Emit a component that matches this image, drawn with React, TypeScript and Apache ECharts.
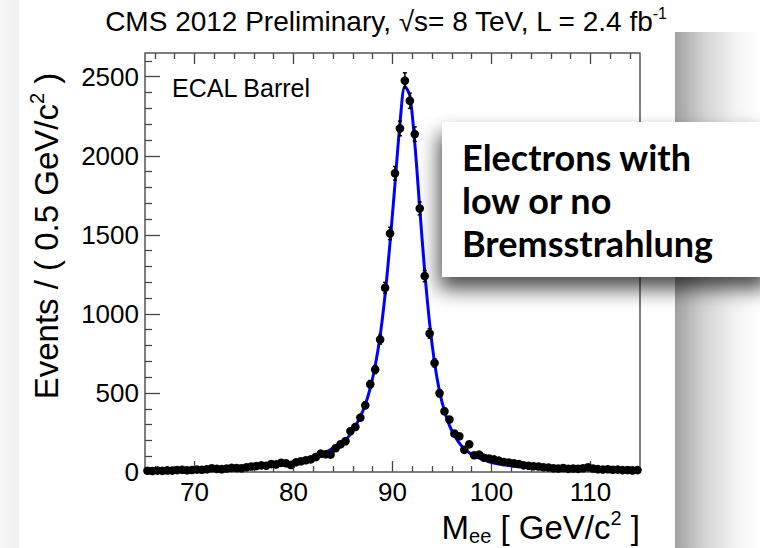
import React, { useEffect, useRef } from "react";
import * as echarts from "echarts";

// ---- data ----
const X_MIN = 65;
const X_MAX = 115;
const Y_MIN = 0;
const Y_MAX = 2650;
const BIN_START = 65;
const BIN_WIDTH = 0.5;

// events per 0.5 GeV bin, 65.0 .. 115.0
const counts = [
  8, 6, 9, 7, 10, 9, 12, 14, 11, 13,
  15, 14, 17, 24, 20, 18, 22, 26, 25, 24,
  30, 35, 38, 42, 40, 50, 48, 58, 55, 44,
  62, 68, 74, 80, 95, 116, 112, 110, 150, 175,
  195, 258, 285, 344, 422, 555, 648, 838, 1165, 1509,
  1889, 2173, 2475, 2348, 2137, 1667, 1239, 876, 690, 498,
  384, 332, 243, 226, 140, 175, 106, 110, 90, 85,
  80, 72, 63, 60, 55, 50, 42, 40, 36, 35,
  30, 28, 24, 22, 25, 20, 22, 20, 24, 30,
  22, 18, 16, 17, 14, 15, 12, 13, 10, 12,
];

// fitted curve, read at bin centres
const fitValues = [
  5, 5, 6, 6, 7, 8, 9, 9, 10, 11,
  12, 13, 14, 15, 16, 17, 18, 20, 22, 24,
  26, 29, 32, 35, 39, 43, 47, 52, 57, 62,
  68, 75, 82, 90, 100, 112, 125, 142, 162, 180,
  200, 240, 290, 350, 425, 530, 670, 860, 1120, 1450,
  1820, 2200, 2440, 2380, 2080, 1670, 1270, 940, 690, 510,
  385, 295, 230, 183, 148, 122, 102, 87, 75, 65,
  57, 51, 46, 41, 37, 34, 31, 28, 26, 24,
  22, 21, 19, 18, 17, 16, 15, 14, 14, 13,
  12, 12, 11, 11, 10, 10, 9, 9, 9, 8,
];

const xMajorTicks = [70, 80, 90, 100, 110];
const xMinorTicks = [66, 68, 72, 74, 76, 78, 82, 84, 86, 88, 92, 94, 96, 98, 102, 104, 106, 108, 112, 114];
const yMajorTicks = [0, 500, 1000, 1500, 2000, 2500];
const yMinorTicks = [
  100, 200, 300, 400, 600, 700, 800, 900, 1100, 1200, 1300, 1400,
  1600, 1700, 1800, 1900, 2100, 2200, 2300, 2400, 2600,
];

const titleMain = "CMS 2012 Preliminary, √s= 8 TeV, L = 2.4 fb";
const titleSup = "-1";
const yTitleMain = "Events / ( 0.5 GeV/c";
const yTitleSup = "2";
const yTitleEnd = " )";
const xTitleMain = "M";
const xTitleSub = "ee";
const xTitleMid = " [ GeV/c";
const xTitleSup = "2";
const xTitleEnd = " ]";
const detectorLabel = "ECAL Barrel";
const boxLines = ["Electrons with", "low or no", "Bremsstrahlung"];

const ROOT_FONT = "'Liberation Sans', Arial, Helvetica, sans-serif";
const BOX_FONT = "Lato, 'Noto Sans', sans-serif";

export default function App() {
  const ref = useRef<HTMLDivElement>(null);

  useEffect(() => {
    if (!ref.current) return;
    const chart = echarts.init(ref.current, null, { renderer: "svg" });

    const dataPoints = counts.map((c, i) => [BIN_START + BIN_WIDTH * (i + 0.5), c]);
    const fitPoints = fitValues.map((v, i) => [BIN_START + BIN_WIDTH * (i + 0.5), v]);

    const tickColor = "#444";
    const xAxisBase = {
      type: "value" as const,
      min: X_MIN,
      max: X_MAX,
      splitLine: { show: false },
      axisLine: { show: false, onZero: false },
    };
    const yAxisBase = {
      type: "value" as const,
      min: Y_MIN,
      max: Y_MAX,
      splitLine: { show: false },
      axisLine: { show: false, onZero: false },
    };

    chart.setOption({
      animation: false,
      backgroundColor: "#ffffff",
      grid: {
        left: 145,
        right: 120,
        top: 53,
        bottom: 76,
        show: true,
        borderColor: "#555",
        borderWidth: 1.5,
        backgroundColor: "transparent",
        z: 3,
      },
      xAxis: [
        {
          ...xAxisBase,
          position: "bottom",
          axisTick: { inside: true, length: 11, customValues: xMajorTicks, lineStyle: { color: tickColor, width: 1.3 } },
          axisLabel: {
            customValues: xMajorTicks,
            formatter: (v: number) => String(v),
            fontSize: 26,
            fontFamily: ROOT_FONT,
            color: "#000",
            margin: 7,
          },
        },
        {
          ...xAxisBase,
          position: "bottom",
          axisTick: { inside: true, length: 6, customValues: xMinorTicks, lineStyle: { color: tickColor, width: 1.3 } },
          axisLabel: { show: false },
        },
        {
          ...xAxisBase,
          position: "top",
          axisTick: { inside: true, length: 11, customValues: xMajorTicks, lineStyle: { color: tickColor, width: 1.3 } },
          axisLabel: { show: false },
        },
        {
          ...xAxisBase,
          position: "top",
          axisTick: { inside: true, length: 6, customValues: xMinorTicks, lineStyle: { color: tickColor, width: 1.3 } },
          axisLabel: { show: false },
        },
      ],
      yAxis: [
        {
          ...yAxisBase,
          position: "left",
          axisTick: { inside: true, length: 15, customValues: yMajorTicks, lineStyle: { color: tickColor, width: 1.3 } },
          axisLabel: {
            customValues: yMajorTicks,
            formatter: (v: number) => String(v),
            fontSize: 26,
            fontFamily: ROOT_FONT,
            color: "#000",
            margin: 6,
          },
        },
        {
          ...yAxisBase,
          position: "left",
          axisTick: { inside: true, length: 7, customValues: yMinorTicks, lineStyle: { color: tickColor, width: 1.3 } },
          axisLabel: { show: false },
        },
      ],
      series: [
        {
          type: "line",
          xAxisIndex: 0,
          yAxisIndex: 0,
          data: fitPoints,
          smooth: 0.3,
          showSymbol: false,
          lineStyle: { color: "#0000ff", width: 3 },
          z: 2,
        },
        {
          type: "custom",
          xAxisIndex: 0,
          yAxisIndex: 0,
          data: dataPoints,
          z: 4,
          renderItem: (_params: any, api: any) => {
            const x = api.value(0);
            const y = api.value(1);
            const err = Math.sqrt(y);
            const c = api.coord([x, y]);
            const top = api.coord([x, y + err]);
            const bot = api.coord([x, Math.max(0, y - err)]);
            const l = api.coord([x - BIN_WIDTH / 2, y]);
            const r = api.coord([x + BIN_WIDTH / 2, y]);
            const st = { stroke: "#000", lineWidth: 1.5 };
            return {
              type: "group",
              children: [
                { type: "line", shape: { x1: c[0], y1: top[1], x2: c[0], y2: bot[1] }, style: st },
                { type: "line", shape: { x1: c[0] - 2, y1: top[1], x2: c[0] + 2, y2: top[1] }, style: st },
                { type: "line", shape: { x1: c[0] - 2, y1: bot[1], x2: c[0] + 2, y2: bot[1] }, style: st },
                { type: "line", shape: { x1: l[0], y1: c[1], x2: r[0], y2: c[1] }, style: st },
                { type: "circle", shape: { cx: c[0], cy: c[1], r: 4.3 }, style: { fill: "#000" } },
              ],
            };
          },
        },
      ],
      graphic: [
        // slide shadows
        {
          type: "rect",
          z: 0,
          silent: true,
          shape: { x: 0, y: 0, width: 19, height: 548 },
          style: {
            fill: new echarts.graphic.LinearGradient(0, 0, 1, 0, [
              { offset: 0, color: "#f6f6f6" },
              { offset: 1, color: "#f1f1f1" },
            ]),
          },
        },
        {
          type: "rect",
          z: 0,
          silent: true,
          shape: { x: 675, y: 32, width: 85, height: 516 },
          style: {
            fill: new echarts.graphic.LinearGradient(0, 0, 1, 0, [
              { offset: 0, color: "#a0a0a0" },
              { offset: 0.35, color: "#d4d4d4" },
              { offset: 0.7, color: "#f2f2f2" },
              { offset: 1, color: "#ffffff" },
            ]),
          },
        },
        // title
        {
          type: "text",
          z: 10,
          x: 667,
          y: 21,
          style: {
            text: `{a|${titleMain}}{b|${titleSup}}`,
            align: "right",
            verticalAlign: "middle",
            rich: {
              a: { fontSize: 28, fontFamily: ROOT_FONT, fill: "#000", lineHeight: 32 },
              b: { fontSize: 16, fontFamily: ROOT_FONT, fill: "#000", lineHeight: 22, verticalAlign: "top" },
            },
          },
        },
        // y title
        {
          type: "text",
          z: 10,
          x: 46,
          y: 236,
          rotation: Math.PI / 2,
          style: {
            text: `{a|${yTitleMain}}{b|${yTitleSup}}{a|${yTitleEnd}}`,
            align: "center",
            verticalAlign: "middle",
            rich: {
              a: { fontSize: 33, fontFamily: ROOT_FONT, fill: "#000", lineHeight: 38 },
              b: { fontSize: 20, fontFamily: ROOT_FONT, fill: "#000", lineHeight: 26, verticalAlign: "top" },
            },
          },
        },
        // x title
        {
          type: "text",
          z: 10,
          x: 640,
          y: 527,
          style: {
            text: `{a|${xTitleMain}}{s|${xTitleSub}}{a|${xTitleMid}}{b|${xTitleSup}}{a|${xTitleEnd}}`,
            align: "right",
            verticalAlign: "middle",
            rich: {
              a: { fontSize: 33, fontFamily: ROOT_FONT, fill: "#000", lineHeight: 38 },
              s: { fontSize: 20, fontFamily: ROOT_FONT, fill: "#000", lineHeight: 20, verticalAlign: "bottom" },
              b: { fontSize: 20, fontFamily: ROOT_FONT, fill: "#000", lineHeight: 26, verticalAlign: "top" },
            },
          },
        },
        // detector label
        {
          type: "text",
          z: 10,
          x: 172,
          y: 88,
          style: {
            text: detectorLabel,
            fontSize: 25,
            fontFamily: ROOT_FONT,
            fill: "#000",
            align: "left",
            verticalAlign: "middle",
          },
        },
        // annotation box
        {
          type: "rect",
          z: 20,
          silent: true,
          shape: { x: 442, y: 122, width: 330, height: 155 },
          style: {
            fill: "#ffffff",
            shadowBlur: 20,
            shadowOffsetX: -3,
            shadowOffsetY: 12,
            shadowColor: "rgba(0,0,0,0.7)",
          },
        },
        {
          type: "text",
          z: 21,
          x: 462,
          y: 135,
          style: {
            text: boxLines.join("\n"),
            fontSize: 36,
            fontWeight: "bold",
            fontFamily: BOX_FONT,
            fill: "#000",
            lineHeight: 43,
            align: "left",
            verticalAlign: "top",
          },
        },
      ],
    });

    return () => chart.dispose();
  }, []);

  return (
    <div
      ref={ref}
      style={{ position: "fixed", left: 0, top: 0, width: 760, height: 548, background: "#fff" }}
    />
  );
}
